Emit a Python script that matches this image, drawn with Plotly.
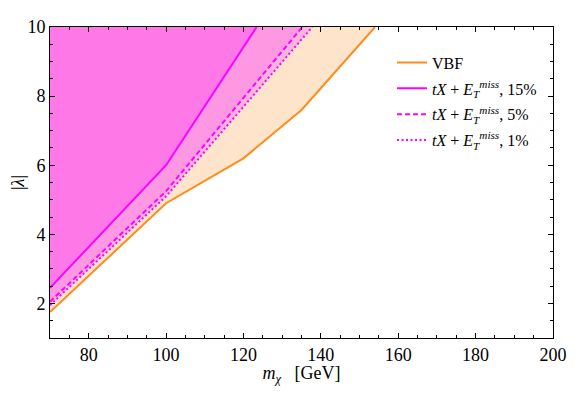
import plotly.graph_objects as go

# curves: (m_chi, |lambda|) points, each ends at the top edge
vbf_m = [70, 100, 120, 135, 154]
vbf_lam = [1.75, 4.9, 6.2, 7.6, 10]

tx15_m = [70, 100, 123.4]
tx15_lam = [2.45, 6.0, 10]

tx5_m = [70, 100, 135.2]
tx5_lam = [2.05, 5.25, 10]

tx1_m = [70, 100, 137.8]
tx1_lam = [1.95, 5.1, 10]

ORANGE = "#FF8C1A"
MAGENTA = "#FF00FF"


def region(xs, ys, color):
    # excluded area: above/left of the curve, closed along the top-left corner
    return go.Scatter(
        x=xs + [70], y=ys + [10], fill="toself", fillcolor=color,
        mode="none", showlegend=False, hoverinfo="skip",
    )


fig = go.Figure()
fig.add_trace(region(vbf_m, vbf_lam, "#FFE4CC"))
fig.add_trace(region(tx1_m, tx1_lam, "#FFB4DC"))
fig.add_trace(region(tx5_m, tx5_lam, "#FF98E2"))
fig.add_trace(region(tx15_m, tx15_lam, "#FF78E8"))

label = "<i>tX</i> + <i>E</i><sub><i>T</i></sub><sup><i>miss</i></sup>, {}%"
fig.add_trace(go.Scatter(x=vbf_m, y=vbf_lam, mode="lines", name="VBF", legendgroup="a",
                         line=dict(color=ORANGE, width=2)))
fig.add_trace(go.Scatter(x=tx15_m, y=tx15_lam, mode="lines", name=label.format(15),
                         legendgroup="b", line=dict(color=MAGENTA, width=2)))
fig.add_trace(go.Scatter(x=tx5_m, y=tx5_lam, mode="lines", name=label.format(5),
                         legendgroup="c", line=dict(color=MAGENTA, width=2, dash="5px,3px")))
fig.add_trace(go.Scatter(x=tx1_m, y=tx1_lam, mode="lines", name=label.format(1),
                         legendgroup="d", line=dict(color=MAGENTA, width=2, dash="2px,2.5px")))

axis_common = dict(
    showgrid=False, zeroline=False, showline=True, linecolor="black", linewidth=1,
    mirror="ticks", ticks="inside", ticklen=5, tickcolor="black",
    tickfont=dict(size=18, color="black"), automargin=False, ticklabeloverflow="allow",
)

fig.update_layout(
    width=573, height=378,
    paper_bgcolor="white", plot_bgcolor="white",
    font=dict(family="Liberation Serif", color="black"),
    margin=dict(l=42, r=28, t=19, b=48),
    xaxis=dict(
        range=[70, 200], dtick=20, tick0=0,
        minor=dict(dtick=5, ticks="inside", ticklen=3, tickcolor="black"),
        title=dict(text="<i>m</i><sub><i>χ</i></sub>   [GeV]", font=dict(size=18), standoff=8),
        **axis_common,
    ),
    yaxis=dict(
        range=[1, 10], dtick=2, tick0=0,
        minor=dict(dtick=0.5, ticks="inside", ticklen=3, tickcolor="black"),
        title=dict(text="|<i>λ</i>|", font=dict(size=18), standoff=8),
        **axis_common,
    ),
    legend=dict(
        x=0.68, y=0.94, xanchor="left", yanchor="top",
        bgcolor="rgba(0,0,0,0)", font=dict(size=16), tracegroupgap=2,
    ),
)

fig.write_html("out.html")
